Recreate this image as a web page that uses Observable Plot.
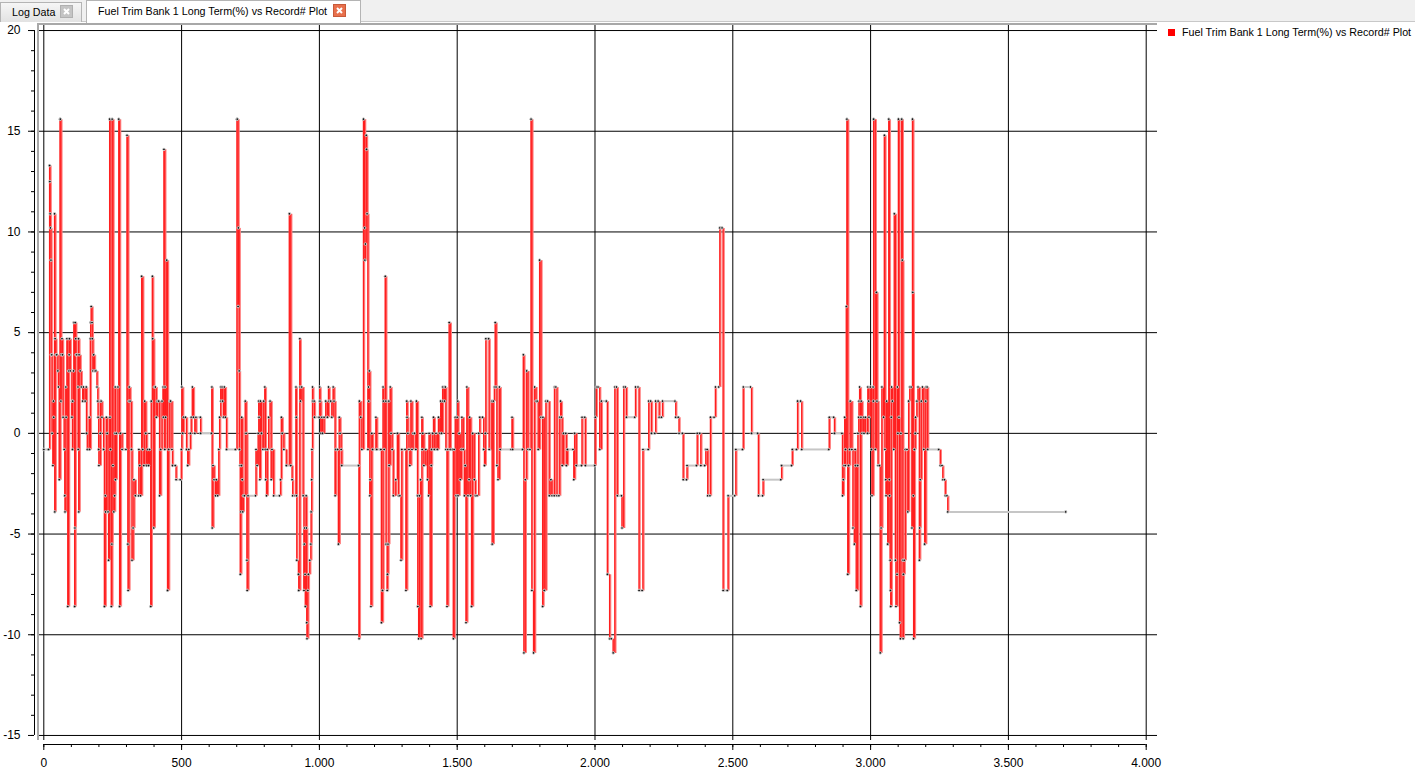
<!DOCTYPE html>
<html><head><meta charset="utf-8">
<script src="https://cdn.jsdelivr.net/npm/d3@7"></script>
<script src="https://cdn.jsdelivr.net/npm/@observablehq/plot@0.6"></script>
<style>
body{margin:0;width:1415px;height:768px;overflow:hidden;background:#fff;font-family:"Liberation Sans",Arial,sans-serif;position:relative}
#tabs{position:absolute;left:0;top:0;width:1415px;height:22px;background:#f0f0f0;border-bottom:1px solid #c8c8c8;box-sizing:border-box}
.tab{position:absolute;font-size:10.7px;box-sizing:border-box;color:#000}
#t1{left:0;top:2px;width:82px;height:20px;background:linear-gradient(#f6f6f6,#e2e2e2);border:1px solid #b4b4b4;border-bottom:none}
#t2{left:86px;top:0;width:275px;height:23px;background:#fff;border:1px solid #b4b4b4;border-bottom:none}
.lbl{position:absolute;white-space:nowrap}
.cls{position:absolute;width:13px;height:13px;box-sizing:border-box}
#chart{position:absolute;left:0;top:22px}
#fl{position:absolute;left:37px;top:23px;width:2px;height:717px;background:#a8a8a8}
#ft{position:absolute;left:37px;top:23px;width:1120px;height:2px;background:#a8a8a8}
#legend{position:absolute;left:1168px;top:25px;font-size:10.7px;white-space:nowrap}
#legend .sw{position:absolute;left:0;top:4px;width:7px;height:7px;background:#ff0000}
#legend .tx{position:absolute;left:14px;top:0;line-height:15px}
</style></head>
<body>
<div id="tabs">
  <div class="tab" id="t1"><span class="lbl" style="left:11px;top:3px">Log Data</span>
    <div class="cls" style="left:59px;top:2px;background:#c4c4c4;border:1px solid #b0b0b0"><svg width="11" height="11" style="position:absolute;left:0;top:0"><path d="M3 3L8 8M8 3L3 8" stroke="#fff" stroke-width="2"/></svg></div></div>
  <div class="tab" id="t2"><span class="lbl" style="left:11px;top:4px">Fuel Trim Bank 1 Long Term(%) vs Record# Plot</span>
    <div class="cls" style="left:246px;top:3px;background:#e8704c;border:1px solid #c85a3a"><svg width="11" height="11" style="position:absolute;left:0;top:0"><path d="M3 3L8 8M8 3L3 8" stroke="#fff" stroke-width="2"/></svg></div></div>
</div>
<div id="chart"></div>
<div id="fl"></div><div id="ft"></div>
<div id="legend"><div class="sw"></div><div class="tx">Fuel Trim Bank 1 Long Term(%) vs Record# Plot</div></div>
<script>
const seriesName = "Fuel Trim Bank 1 Long Term(%) vs Record# Plot";
const records = [
0,17,21,22,23,24,26,27,29,30,33,35,36,39,40,41,44,47,51,53,56,59,60,62,63,66,68,70,74,76,77,80,81,84,87,90,92,93,96,102,103,104,105,108,109,112,113,114,116,117,120,124,125,126,127,128,132,136,141,144,150,154,155,158,165,166,169,170,172,175,176,178,181,184,189,193,196,197,199,200,205,206,208,211,217,220,223,224,227,230,233,235,239,240,242,245,247,248,251,254,257,258,259,260,263,269,272,275,278,284,298,302,305,306,309,310,313,318,320,324,327,332,344,345,348,351,355,359,363,366,370,373,377,380,384,388,390,394,395,399,401,405,408,412,417,420,424,429,433,434,436,439,440,442,446,449,453,457,460,465,467,477,480,495,499,501,504,507,514,518,522,526,532,535,539,543,548,552,568,569,608,610,611,614,618,623,626,631,635,638,642,643,647,649,652,655,659,663,695,701,702,705,706,709,710,712,713,715,717,718,720,722,724,728,731,734,737,738,741,768,770,774,778,780,781,784,786,790,795,798,802,804,805,808,811,816,821,825,828,834,855,859,862,865,871,880,891,896,901,903,912,
915,916,917,918,924,925,929,930,931,936,941,944,945,946,948,949,952,953,954,955,958,960,965,969,970,972,973,975,976,981,982,999,1001,1002,1005,1009,1011,1017,1023,1029,1033,1035,1041,1045,1050,1053,1057,1059,1066,1069,1072,1075,1079,1081,1142,1144,1145,1150,1154,1160,1164,1165,1167,1170,1171,1173,1176,1178,1179,1181,1183,1184,1187,1190,1193,1205,1208,1223,1225,1229,1231,1232,1235,1239,1241,1242,1246,1247,1249,1252,1253,1257,1260,1264,1268,1277,1283,1287,1292,1296,1299,1311,1314,1317,1318,1321,1325,1328,1332,1336,1340,1345,1350,1352,1356,1357,1360,1363,1367,1369,1372,1373,1375,1379,1386,1392,1396,1398,1402,1406,1407,1411,1414,1417,1423,1428,1432,1437,1440,1443,1447,1448,1453,1454,1457,1459,1463,1466,1471,1475,1483,1486,1489,1493,1496,1500,1502,1503,1507,1511,1515,1517,1522,1526,1529,1532,1535,1539,1543,1545,1549,1552,1556,1562,1566,1572,1578,1582,1592,1596,1599,1602,1604,1614,1616,1626,1627,1631,1635,1638,1641,1644,1648,1653,1656,1695,1699,1701,1737,1740,1742,1747,1752,1757,1764,1768,1771,1777,1781,1786,1790,1794,1799,1804,1810,1811,1816,1822,1828,1834,1840,1844,1852,1853,1858,
1862,1869,1872,1875,1878,1881,1886,1894,1896,1900,1920,1923,1926,1932,1951,1953,1963,1965,1999,2001,2005,2011,2017,2023,2041,2045,2053,2059,2066,2072,2078,2081,2096,2098,2104,2110,2114,2144,2147,2156,2160,2171,2174,2193,2195,2202,2205,2217,2220,2229,2233,2241,2245,2290,2293,2302,2305,2317,2320,2332,2334,2368,2371,2380,2384,2398,2402,2407,2409,2417,2419,2432,2437,2449,2453,2461,2465,2480,2483,2507,2511,2535,2538,2564,2568,2590,2593,2608,2610,2674,2677,2713,2716,2731,2735,2746,2750,
2848,2850,2866,2869,2896,2898,2901,2903,2906,2908,2909,2912,2914,2917,2920,2924,2926,2932,2936,2941,2944,2945,2948,2953,2954,2957,2958,2960,2963,2965,2966,2969,2975,2976,2981,2989,2990,2993,2994,2999,3003,3005,3009,3010,3011,3017,3021,3023,3027,3032,3035,3038,3041,3047,3050,3052,3055,3056,3058,3062,3066,3068,3069,3071,3072,3073,3075,3076,3079,3084,3086,3090,3092,3096,3097,3099,3101,3103,3105,3108,3110,3113,3115,3117,3118,3119,3122,3126,3132,3135,3138,3142,3147,3150,3152,3153,3155,3156,3159,3162,3163,3168,3172,3177,3178,3180,3184,3188,3193,3196,3200,3201,3205,3207,3247,3253,3259,3262,3268,3271,3277,3280,3708
];
const trims = [
-0.8,-0.8,13.3,12.5,10.9,10.2,8.6,3.9,3.9,0,-1.6,1.6,0.8,10.9,-3.9,4.7,3.9,3.9,3.1,2.3,-2.3,15.6,15.6,1.6,3.9,4.7,3.9,0.8,-0.8,-3.1,-3.9,2.3,0.8,4.7,-8.6,3.1,3.9,4.7,3.1,0.8,1.6,-0.8,1.6,3.1,5.5,-8.6,-4.7,5.5,4.7,3.9,3.9,2.3,-0.8,4.7,-3.9,3.9,3.1,2.3,1.6,2.3,1.6,2.3,0,-0.8,0.8,-0.8,4.7,5.5,6.3,5.5,4.7,3.1,3.9,3.1,3.1,2.3,1.6,0.8,-0.8,-1.6,0,1.6,1.6,0.8,-0.8,-8.6,-3.1,-3.9,0.8,0,-3.9,-6.3,15.6,0.8,-0.8,-8.6,-5.5,15.6,-1.6,-3.9,-3.1,0,2.3,-2.3,0,2.3,15.6,-8.6,0,-0.8,-0.8,14.8,-5.5,-7.8,1.6,2.3,1.6,-0.8,-6.3,-4.7,-2.3,-3.1,-3.1,-0.8,-1.6,-3.1,7.8,-0.8,-1.6,1.6,0,-1.6,-0.8,-1.6,-0.8,-8.6,1.6,7.8,4.7,-4.7,2.3,2.3,0.8,1.6,1.6,-3.1,-0.8,1.6,2.3,0.8,14.1,-0.8,2.3,0.8,8.6,-7.8,-0.8,1.6,1.6,-0.8,-1.6,-1.6,-2.3,-2.3,-0.8,2.3,0,0.8,0.8,-0.8,-1.6,-0.8,0,0.8,2.3,0.8,0,0.8,0.8,0,0,2.3,-4.7,-1.6,-2.3,-3.1,-2.3,-3.1,-0.8,0.8,2.3,1.6,2.3,1.6,0.8,2.3,0.8,-0.8,-0.8,15.6,15.6,6.3,10.2,3.1,-0.8,-1.6,-7.0,-3.9,-1.6,0.8,-2.3,-3.9,-3.1,-3.1,1.6,0,-6.3,-7.8,-3.1,-3.1,-0.8,-1.6,0,1.6,0.8,-2.3,1.6,0,-0.8,1.6,2.3,-0.8,-2.3,-3.1,-0.8,0.8,1.6,-2.3,-0.8,-3.1,-3.1,-2.3,0.8,0,-0.8,-1.6,10.9,-1.6,-2.3,-3.1,-3.1,
2.3,0.8,-3.1,-6.3,-7.0,-7.8,4.7,2.3,1.6,2.3,-3.1,-7.8,-5.5,-4.7,-7.0,-8.6,-3.1,-4.7,-9.4,-10.2,-7.8,-7.0,-6.3,-5.5,-3.9,-2.3,-0.8,2.3,1.6,1.6,0.8,0.8,2.3,1.6,0,0.8,0,0.8,1.6,0.8,2.3,1.6,1.6,0.8,2.3,1.6,-3.1,-0.8,-0.8,-5.5,0.8,0,-0.8,-1.6,-1.6,-10.2,1.6,0.8,-0.8,15.6,10.2,8.6,9.4,14.8,14.1,10.9,-0.8,2.3,1.6,3.1,-3.1,-2.3,-8.6,0,-0.8,0.8,-0.8,-0.8,-9.4,-7.8,2.3,1.6,-0.8,7.8,1.6,-5.5,-7.8,-7.0,-5.5,1.6,-1.6,2.3,0,-0.8,-3.1,-2.3,0,-3.1,-3.1,-6.3,-0.8,-0.8,-7.8,1.6,0.8,0,-0.8,-1.6,1.6,-0.8,0,0,-0.8,1.6,-3.1,-8.6,-10.2,-3.1,-2.3,-10.2,0.8,-0.8,0,-1.6,-0.8,-2.3,-3.1,0,-8.6,-1.6,-0.8,0,0.8,-0.8,0,-0.8,0.8,0,1.6,0,2.3,1.6,2.3,1.6,2.3,-0.8,-8.6,-0.8,5.5,-0.8,-0.8,-10.2,-0.8,0.8,-3.1,0.8,1.6,-3.1,0,-2.3,-0.8,0.8,-0.8,-3.1,-1.6,-9.4,2.3,-3.1,-2.3,0.8,-3.1,-8.6,0,-2.3,-3.1,-3.1,0,0.8,0.8,-0.8,-1.6,0,4.7,4.7,-0.8,1.6,-5.5,1.6,2.3,5.5,2.3,-1.6,-2.3,2.3,-0.8,-0.8,0.8,-0.8,-0.8,3.9,-10.9,-2.3,3.1,-0.8,-0.8,15.6,-7.8,-10.9,2.3,1.6,1.6,-0.8,8.6,0.8,-8.6,0.8,-7.8,1.6,1.6,-3.1,-2.3,-3.1,-3.1,2.3,2.3,
-3.1,-3.1,0.8,1.6,0.8,-1.6,0,0,-1.6,-0.8,-0.8,-2.3,0,-1.6,-1.6,0.8,0.8,-1.6,-1.6,0.8,2.3,2.3,-0.8,1.6,1.6,-7.0,-10.2,-10.2,-10.9,2.3,2.3,-3.1,-3.1,-4.7,2.3,2.3,0.8,0.8,2.3,2.3,-7.8,-7.8,-0.8,-0.8,1.6,1.6,0,0,1.6,1.6,0.8,0.8,1.6,1.6,0.8,0.8,0,0,-2.3,-2.3,-1.6,-1.6,0,0,-1.6,-1.6,-0.8,-0.8,-3.1,-3.1,0.8,0.8,2.3,2.3,10.2,10.2,-7.8,-7.8,-3.1,-3.1,-0.8,-0.8,2.3,2.3,0,0,-3.1,-3.1,-2.3,-2.3,-1.6,-1.6,-0.8,-0.8,1.6,1.6,-0.8,
-0.8,0.8,0.8,0,0,-3.1,-2.3,-1.6,0.8,-1.6,-0.8,6.3,15.6,-7.0,-1.6,-0.8,1.6,-0.8,-4.7,-5.5,-0.8,-1.6,-7.8,-1.6,0,0.8,1.6,2.3,-8.6,0.8,1.6,0,0.8,0,0.8,0,2.3,1.6,0.8,2.3,-0.8,-3.1,2.3,1.6,15.6,-0.8,7.0,1.6,-1.6,-1.6,-10.9,-4.7,2.3,0.8,14.8,-0.8,-2.3,-3.1,1.6,-5.5,15.6,-2.3,-3.1,-6.3,-7.8,-8.6,0.8,2.3,1.6,-0.8,10.9,-6.3,-8.6,-7.0,2.3,0,15.6,0.8,-9.4,-10.2,0,15.6,8.6,-6.3,-10.2,-7.0,-6.3,-0.8,-0.8,-3.9,1.6,2.3,2.3,-4.7,15.6,7.0,-3.1,-10.2,-0.8,0,0.8,1.6,2.3,-6.3,-4.7,-2.3,1.6,2.3,-0.8,-5.5,1.6,2.3,2.3,-0.8,-0.8,-1.6,-1.6,-2.3,-2.3,-3.1,-3.1,-3.9,-3.9
];
const xTicks = d3.range(0, 4001, 500);
const xMinor = d3.range(0, 4001, 100);
const yTicks = d3.range(-15, 21, 5);
const yMinor = d3.range(-15, 21, 1);
const xDomain = [-15.6, 4041];
const yDomain = [-15.25, 20.25];

const n = Math.min(records.length, trims.length);
const pts = d3.range(n).map(i => ({r: records[i], v: trims[i]}));
const flats = [], rises = [];
for (let i = 1; i < n; i++) {
  const a = pts[i - 1], b = pts[i];
  if (b.r > a.r) flats.push({x1: a.r, x2: b.r, y: a.v});
  if (b.v !== a.v) rises.push({x: b.r, y1: a.v, y2: b.v});
}
const fmt = d => d3.format(",")(d).replace(/,/g, ".");

const chart = Plot.plot({
  width: 1415, height: 746,
  marginLeft: 39, marginRight: 258, marginTop: 3, marginBottom: 28,
  x: {domain: xDomain, label: null},
  y: {domain: yDomain, label: null},
  style: {fontFamily: "Liberation Sans, Arial, sans-serif", fontSize: "12px", color: "#000", background: "transparent", overflow: "visible"},
  marks: [
    Plot.gridX(xTicks, {stroke: "#000", strokeOpacity: 1, strokeWidth: 1}),
    Plot.gridY(yTicks, {stroke: "#000", strokeOpacity: 1, strokeWidth: 1}),
    Plot.link(flats, {x1: "x1", x2: "x2", y1: "y", y2: "y", stroke: "#c6c6c6", strokeWidth: 2}),
    Plot.link(rises, {x1: "x", x2: "x", y1: "y1", y2: "y2", stroke: "#ff8080", strokeWidth: 2.4, dx: 0.5}),
    Plot.link(rises, {x1: "x", x2: "x", y1: "y1", y2: "y2", stroke: "#ff1e1e", strokeWidth: 1.2}),
    Plot.dot(pts, {x: "r", y: "v", r: 1.3, fill: "#111", stroke: "#e4e4e4", strokeWidth: 0.8}),
    Plot.axisX(xTicks, {tickSize: 6, dy: 4, tickPadding: 8, tickFormat: fmt}),
    Plot.axisX(xMinor, {tickSize: 3, dy: 4, text: null}),
    Plot.ruleY([yDomain[0]], {x1: xTicks[0], x2: xTicks[xTicks.length - 1], dy: 4, stroke: "#000"}),
    Plot.axisY(yTicks, {tickSize: 6, dx: -5, tickPadding: 8, tickFormat: d => String(d)}),
    Plot.axisY(yMinor, {tickSize: 3, dx: -5, text: null}),
    Plot.ruleX([xDomain[0]], {y1: yTicks[0], y2: yTicks[yTicks.length - 1], dx: -5, stroke: "#000"})
  ]
});
document.getElementById("chart").appendChild(chart);
</script>
</body></html>
